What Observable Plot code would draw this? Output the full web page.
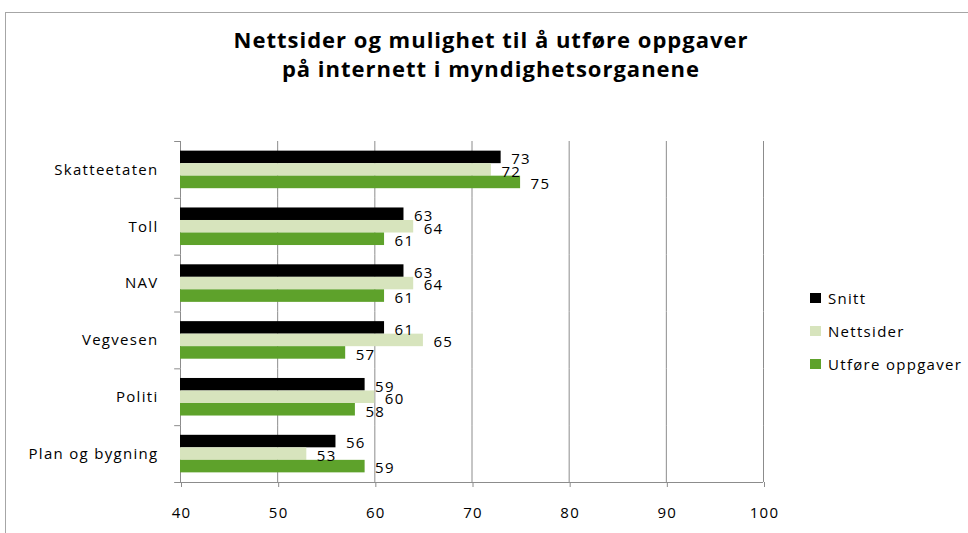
<!DOCTYPE html>
<html><head><meta charset="utf-8">
<script src="https://cdn.jsdelivr.net/npm/d3@7"></script>
<script src="https://cdn.jsdelivr.net/npm/@observablehq/plot@0.6"></script>
<style>
body{margin:0;background:#fff;font-family:"Open Sans",sans-serif;}
#wrap{position:relative;width:968px;height:533px;overflow:hidden;}
#frame{position:absolute;left:5px;top:12px;width:1000px;height:600px;border:1px solid #a6a6a6;box-sizing:border-box;}
#chart{position:absolute;left:0;top:0;}
#title{position:absolute;left:0;width:982px;top:25px;text-align:center;font-weight:bold;font-size:22px;letter-spacing:1px;line-height:29px;color:#000;}
#legend{position:absolute;left:810px;top:281px;font-size:15px;letter-spacing:1.3px;color:#000;}
#legend .item{display:flex;align-items:center;height:33px;}
#legend .sw{width:11px;height:10px;margin-right:7px;}
</style></head><body>
<div id="wrap"><div id="frame"></div><div id="chart"></div>
<div id="title">Nettsider og mulighet til å utføre oppgaver<br>på internett i myndighetsorganene</div>
<div id="legend"></div></div>
<script>
const categories = ["Skatteetaten","Toll","NAV","Vegvesen","Politi","Plan og bygning"];
const seriesNames = ["Snitt","Nettsider","Utføre oppgaver"];
const snitt = [73,63,63,61,59,56];
const nettsider = [72,64,64,65,60,53];
const utfore = [75,61,61,57,58,59];
const xTicks = [40,50,60,70,80,90,100];
const colors = ["#000000","#d7e4bd","#5ea22b"];

const seriesValues = [snitt, nettsider, utfore];
const rows = categories.flatMap((c,i)=>seriesNames.map((s,j)=>({cat:c, series:s, value:seriesValues[j][i]})));

const width=968, height=533, mL=180, mR=205, mT=141, mB=51;
const pOuter = 0.77;
const facetH = (height-mT-mB)/categories.length;
const bw = facetH/(seriesNames.length+2*pOuter);
const edge = pOuter*bw + bw/2;
const gray = "#8c8c8c";
const font = '"Open Sans",sans-serif';

const chart = Plot.plot({
  width, height, marginLeft:mL, marginRight:mR, marginTop:mT, marginBottom:mB,
  style:{fontFamily:font, fontSize:"15px", letterSpacing:"1.3px", color:"#000", background:"transparent"},
  x:{domain:[40,100]},
  y:{domain:seriesNames, paddingInner:0, paddingOuter:pOuter, round:false, axis:null},
  fy:{domain:categories, padding:0, round:false, axis:null},
  color:{domain:seriesNames, range:colors},
  marks:[
    Plot.ruleX(xTicks, {stroke:gray, strokeWidth:1}),
    Plot.barX(rows, {fy:"cat", y:"series", x1:40, x2:"value", fill:"series"}),
    Plot.text(rows, {fy:"cat", y:"series", x:"value", text:d=>String(d.value), dx:10, dy:2, textAnchor:"start", fontSize:15, fill:"#000"}),
    Plot.ruleY(categories, {fy:d=>d, y:()=>seriesNames[0], x1:39.4, x2:40, dy:-edge, stroke:gray}),
    Plot.ruleY([categories[categories.length-1]], {fy:d=>d, y:()=>seriesNames[seriesNames.length-1], x1:39.4, x2:100, dy:edge, stroke:gray}),
    Plot.axisX(xTicks, {tickSize:5, tickPadding:20, stroke:gray, fill:"#000", label:null, fontSize:15, dx:1}),
    Plot.axisFy({anchor:"left", tickSize:0, tickPadding:22, label:null, fontSize:15, fill:"#000"})
  ]
});
document.getElementById("chart").appendChild(chart);

const legend = document.getElementById("legend");
seriesNames.forEach((s,i)=>{
  const it = document.createElement("div"); it.className="item";
  const sw = document.createElement("span"); sw.className="sw"; sw.style.background=colors[i];
  const t = document.createElement("span"); t.textContent=s;
  it.appendChild(sw); it.appendChild(t); legend.appendChild(it);
});
</script>
</body></html>
